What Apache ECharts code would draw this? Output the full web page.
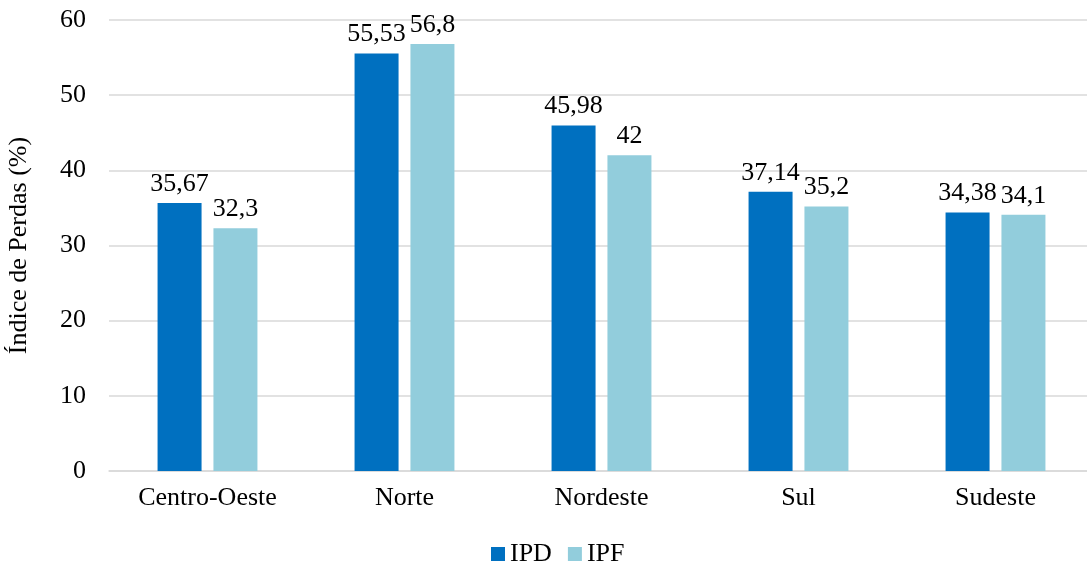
<!DOCTYPE html>
<html>
<head>
<meta charset="utf-8">
<script src="https://cdn.jsdelivr.net/npm/echarts@6/dist/echarts.min.js"></script>
<style>
  html, body { margin: 0; padding: 0; background: #fff; }
  #chart { width: 1087px; height: 570px; }
</style>
</head>
<body>
<div id="chart"></div>
<script>
const categories = ['Centro-Oeste', 'Norte', 'Nordeste', 'Sul', 'Sudeste']
const ipd = [35.67, 55.53, 45.98, 37.14, 34.38]
const ipf = [32.3, 56.8, 42, 35.2, 34.1]

const font = '"Liberation Serif", "Times New Roman", serif'
const fs = 26
const fmt = p => String(p.value).replace('.', ',')

let myChart = echarts.init(document.getElementById('chart'))
myChart.setOption({
  textStyle: { fontFamily: font },
  animation: false,
  legend: {
    bottom: -2,
    left: 486,
    icon: 'rect',
    itemWidth: 14,
    itemHeight: 14,
    itemGap: 16,
    textStyle: { fontFamily: font, fontSize: fs, color: '#000' },
    data: ['IPD', 'IPF']
  },
  // plot area runs a bit past the right edge, as in the source image
  grid: { left: 109, right: -7, top: 20, bottom: 99, outerBoundsMode: 'none' },
  xAxis: {
    type: 'category',
    data: categories,
    axisTick: { show: false },
    axisLine: { lineStyle: { color: '#d9d9d9', width: 1.5 } },
    axisLabel: { fontFamily: font, fontSize: fs, color: '#000', margin: 14 }
  },
  yAxis: {
    type: 'value',
    min: 0,
    max: 60,
    interval: 10,
    name: 'Índice de Perdas (%)',
    nameLocation: 'middle',
    nameGap: 77,
    nameTextStyle: { fontFamily: font, fontSize: fs, color: '#000' },
    axisLabel: { fontFamily: font, fontSize: fs, color: '#000', margin: 23 },
    splitLine: { lineStyle: { color: '#d9d9d9', width: 1.5 } }
  },
  series: [
    {
      name: 'IPD',
      type: 'bar',
      data: ipd,
      barWidth: 44,
      barGap: '27%',
      itemStyle: { color: '#0070C0' },
      label: { show: true, position: 'top', distance: 6, formatter: fmt, fontFamily: font, fontSize: fs, color: '#000' }
    },
    {
      name: 'IPF',
      type: 'bar',
      data: ipf,
      barWidth: 44,
      itemStyle: { color: '#92CDDC' },
      label: { show: true, position: 'top', distance: 6, formatter: fmt, fontFamily: font, fontSize: fs, color: '#000' }
    }
  ]
})
</script>
</body>
</html>
